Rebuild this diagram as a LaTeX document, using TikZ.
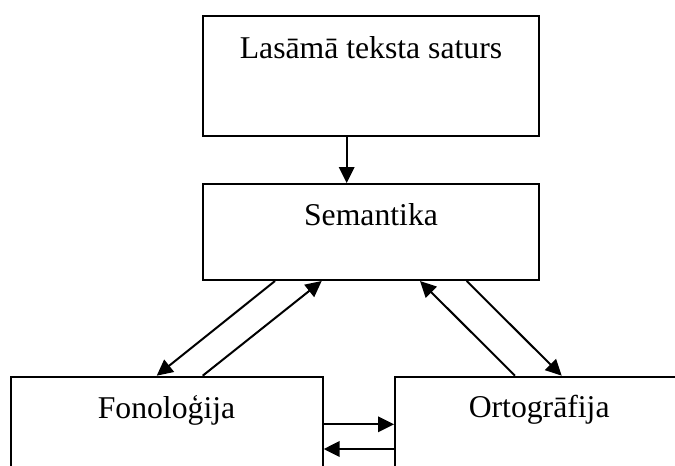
\documentclass[tikz,border=0pt]{standalone}
\usepackage{fontspec}
\setmainfont{Liberation Serif}
\usetikzlibrary{arrows.meta}
\begin{document}
\begin{tikzpicture}[x=1pt,y=-1pt,
  box/.style={draw,line width=2pt,inner sep=0pt,rectangle},
  lbl/.style={anchor=base,inner sep=0pt,font=\fontsize{31.7}{38}\selectfont},
  arr/.style={line width=2pt,-{Triangle[length=16pt,width=15.5pt]}}]
\useasboundingbox (0,0) rectangle (675,466);
\clip (0,0) rectangle (675,466);
% boxes (the two lower ones run past the page edge)
\node[box,minimum width=336.6pt,minimum height=120.3pt] (top) at (371,75.85) {};
\node[box,minimum width=336.6pt,minimum height=96pt] (sem) at (371,232) {};
\node[box,minimum width=311.7pt,minimum height=140pt] (fon) at (166.85,446.7) {};
\node[box,minimum width=320pt,minimum height=140pt] (ort) at (555,446.7) {};
% labels
\node[lbl] (ttop) at (371,58.3) {Lasāmā teksta saturs};
\node[lbl] (tsem) at (371,225) {Semantika};
\node[lbl] (tfon) at (166.5,418.3) {Fonoloģija};
\node[lbl] (tort) at (539.2,417.7) {Ortogrāfija};
% connectors
\draw[arr] (top.south -| 346.7,0) -- (sem.north -| 346.7,0);
\draw[arr] (sem.south -| 275,0) -- (fon.north -| 156.7,0);
\draw[arr] (fon.north -| 202.7,0) -- (sem.south -| 321.7,0);
\draw[arr] (ort.north -| 515,0) -- (sem.south -| 420,0);
\draw[arr] (sem.south -| 466.7,0) -- (ort.north -| 561.7,0);
\draw[arr] (fon.east |- 0,424.3) -- (ort.west |- 0,424.3);
\draw[arr] (ort.west |- 0,449) -- (fon.east |- 0,449);
\end{tikzpicture}
\end{document}
